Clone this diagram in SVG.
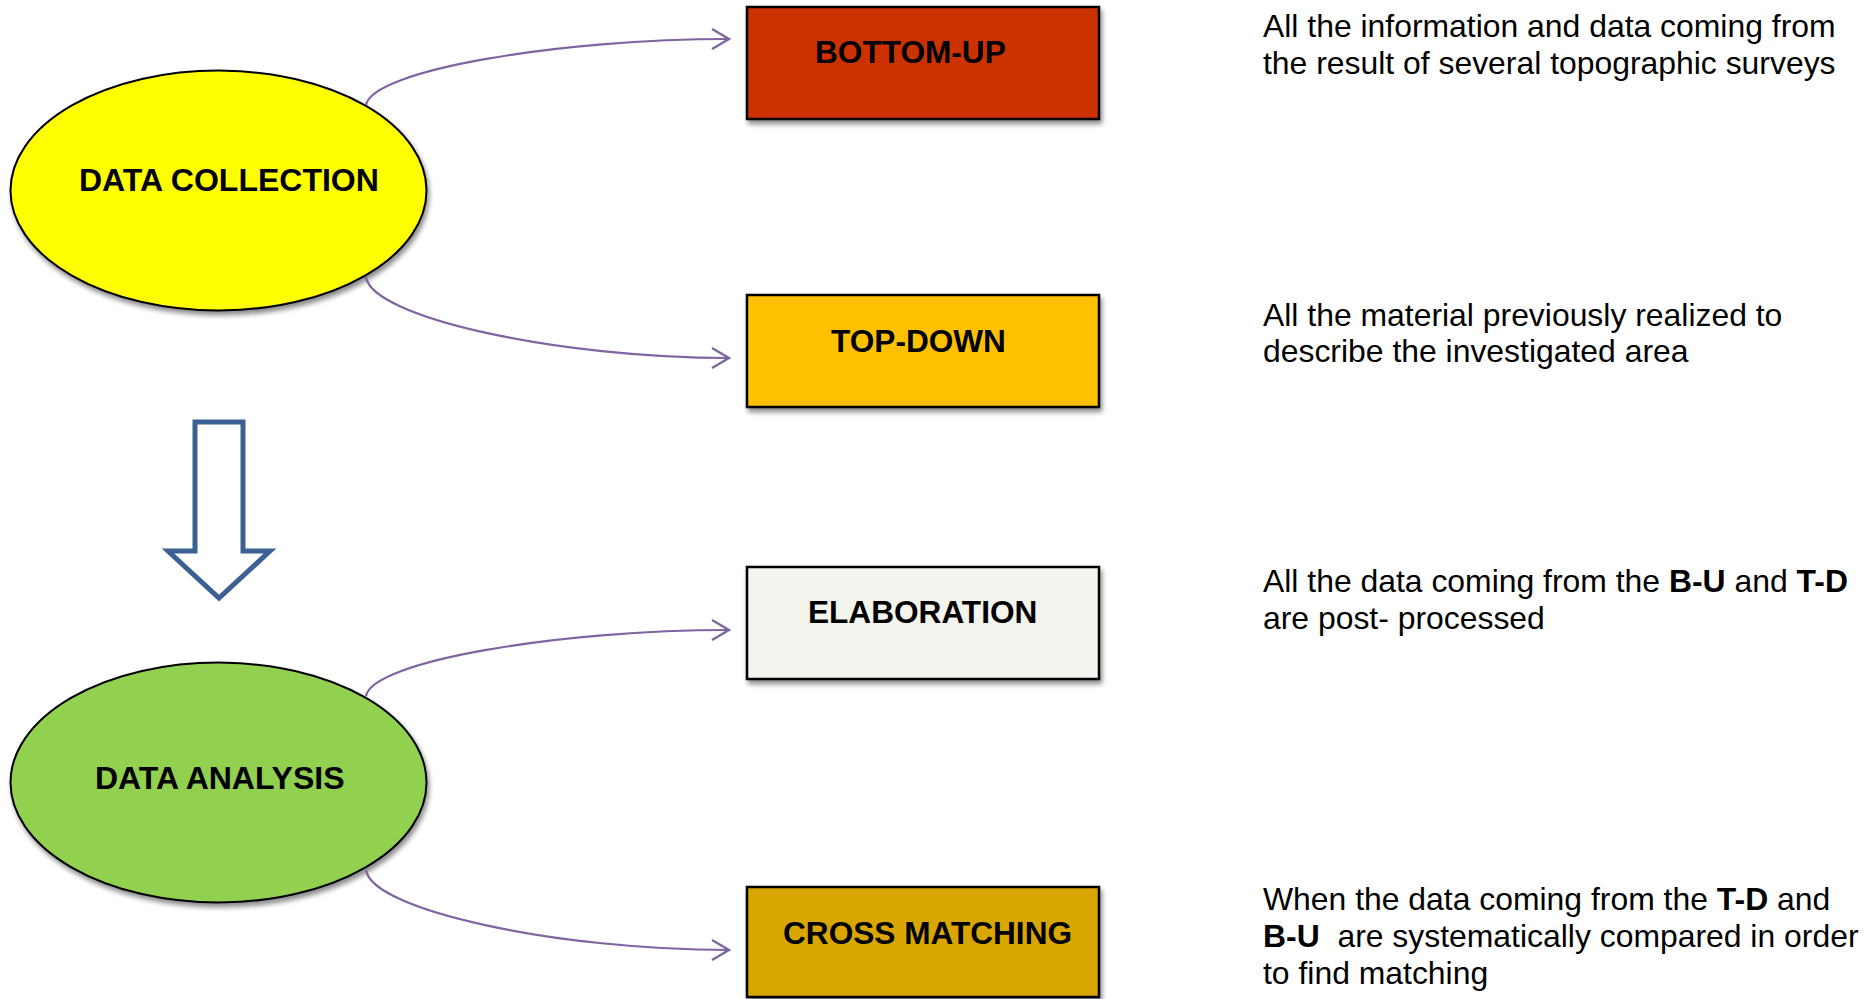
<svg xmlns="http://www.w3.org/2000/svg" width="1866" height="999" viewBox="0 0 1866 999">
<defs>
  <filter id="sh" x="-10%" y="-10%" width="130%" height="140%">
    <feGaussianBlur in="SourceAlpha" stdDeviation="2.5"/>
    <feOffset dx="2" dy="4" result="b"/>
    <feComponentTransfer><feFuncA type="linear" slope="0.45"/></feComponentTransfer>
    <feMerge><feMergeNode/><feMergeNode in="SourceGraphic"/></feMerge>
  </filter>
  <filter id="blur" x="-5%" y="-200%" width="110%" height="500%">
    <feGaussianBlur stdDeviation="3"/>
  </filter>
  <marker id="chev" markerUnits="userSpaceOnUse" markerWidth="24" markerHeight="24" viewBox="-20 -12 24 24" refX="0" refY="0" orient="auto">
    <path d="M-17,-10 L0,0 L-17,10" fill="none" stroke="#8064A2" stroke-width="2.4"/>
  </marker>
  <style>
    .node-text{font-family:"Liberation Sans",Arial,sans-serif;font-weight:bold;font-size:31.6px;fill:#000}
    .ell-text{font-size:32px}
    .desc{font-family:"Liberation Sans",Arial,sans-serif;font-size:31.9px;fill:#000}
    .desc .b{font-weight:bold}
    .box{stroke:#000;stroke-width:2.5}
    .ell{stroke:#000;stroke-width:2}
    .conn{fill:none;stroke:#8064A2;stroke-width:2.2;marker-end:url(#chev)}
    .ghost{stroke:#000;stroke-opacity:0.07;stroke-width:7;filter:url(#blur)}
  </style>
</defs>
<rect width="1866" height="999" fill="#fff"/>

<g id="ghost-lines">
  <line class="ghost" x1="385" y1="121" x2="712" y2="121"/>
  <line class="ghost" x1="385" y1="450" x2="712" y2="450"/>
  <line class="ghost" x1="385" y1="713" x2="712" y2="713"/>
</g>

<g id="data-collection">
  <ellipse class="ell" cx="218.5" cy="190.5" rx="208" ry="120" fill="#FFFF00" filter="url(#sh)"/>
  <text class="node-text ell-text" x="79" y="191">DATA COLLECTION</text>
</g>

<g id="data-analysis">
  <ellipse class="ell" cx="218.5" cy="782.5" rx="208" ry="120" fill="#92D050" filter="url(#sh)"/>
  <text class="node-text ell-text" x="95" y="789">DATA ANALYSIS</text>
</g>

<g id="flow-arrow">
  <polygon points="195,422 243,422 243,551 270,551 219,598 168,551 195,551" fill="#fff" stroke="#3B6194" stroke-width="5"/>
</g>

<g id="bottom-up">
  <rect class="box" x="747" y="7" width="352" height="112" fill="#CC3300" filter="url(#sh)"/>
  <text class="node-text" x="815" y="63">BOTTOM-UP</text>
</g>

<g id="top-down">
  <rect class="box" x="747" y="295" width="352" height="112" fill="#FFC000" filter="url(#sh)"/>
  <text class="node-text" x="831" y="352">TOP-DOWN</text>
</g>

<g id="elaboration">
  <rect class="box" x="747" y="567" width="352" height="112" fill="#F4F4EE" filter="url(#sh)"/>
  <text class="node-text" x="808" y="623">ELABORATION</text>
</g>

<g id="cross-matching">
  <rect class="box" x="747" y="887" width="352" height="110" fill="#D9A600" filter="url(#sh)"/>
  <text class="node-text" x="783" y="944">CROSS MATCHING</text>
</g>

<g id="connectors">
  <path class="conn" d="M366,105 C372,70 560,39 729,39"/>
  <path class="conn" d="M366,277 C372,318 560,358 729,358"/>
  <path class="conn" d="M366,696 C372,661 560,630 729,630"/>
  <path class="conn" d="M366,870 C372,911 560,950 729,950"/>
</g>

<g id="descriptions">
  <text class="desc" x="1263" y="37">All the information and data coming from</text>
  <text class="desc" x="1263" y="74">the result of several topographic surveys</text>
  <text class="desc" x="1263" y="326">All the material previously realized to</text>
  <text class="desc" x="1263" y="362">describe the investigated area</text>
  <text class="desc" x="1263" y="592">All the data coming from the <tspan class="b">B-U</tspan> and <tspan class="b">T-D</tspan></text>
  <text class="desc" x="1263" y="629">are post- processed</text>
  <text class="desc" x="1263" y="910" xml:space="preserve">When the data coming from the <tspan class="b">T-D</tspan> and</text>
  <text class="desc" x="1263" y="947" xml:space="preserve"><tspan class="b">B-U</tspan>  are systematically compared in order</text>
  <text class="desc" x="1263" y="984">to find matching</text>
</g>
</svg>
